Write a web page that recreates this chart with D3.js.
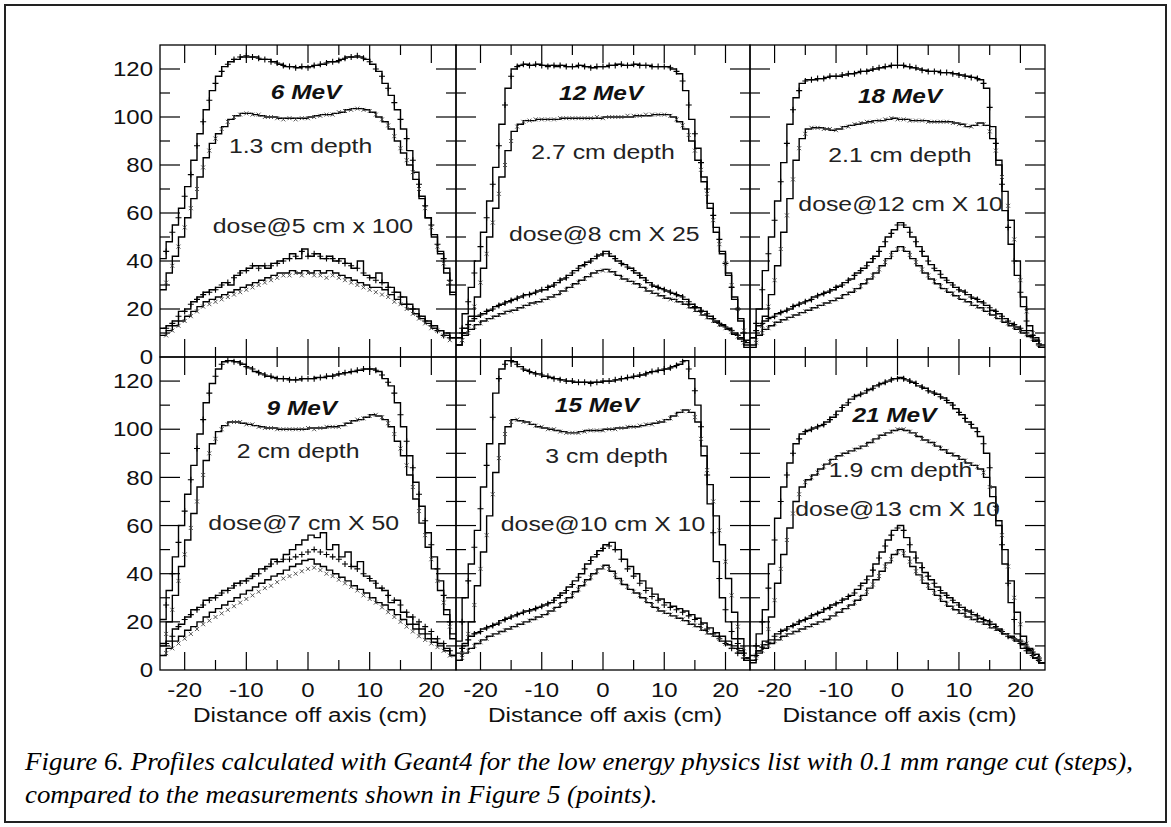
<!DOCTYPE html>
<html><head><meta charset="utf-8">
<script src="https://cdn.jsdelivr.net/npm/d3@7"></script>
<style>body{margin:0;background:#fff;} svg{display:block}</style>
</head><body><svg id="c" width="1171" height="827"></svg>
<script>
// ---------- labels / ticks ----------
const energies = ["6 MeV","12 MeV","18 MeV","9 MeV","15 MeV","21 MeV"];
const depthLabels = ["1.3 cm depth","2.7 cm depth","2.1 cm depth","2 cm depth","3 cm depth","1.9 cm depth"];
const doseLabels = ["dose@5 cm x 100","dose@8 cm X 25","dose@12 cm X 10","dose@7 cm X 50","dose@10 cm X 10","dose@13 cm X 10"];
const xTickLabels = [-20,-10,0,10,20];
const xMinorTicks = [-15,-5,5,15];
const yTickLabels = [0,20,40,60,80,100,120];
const yMinorTicks = [10,30,50,70,90,110];
const xTitle = "Distance off axis (cm)";
const captionLines = ["Figure 6. Profiles calculated with Geant4 for the low energy physics list with 0.1 mm range cut (steps),",
                      "compared to the measurements shown in Figure 5 (points)."];

// ---------- x positions ----------
const binCenters = [-23.5,-22.5,-21.5,-20.5,-19.5,-18.5,-17.5,-16.5,-15.5,-14.5,-13.5,-12.5,-11.5,-10.5,-9.5,-8.5,-7.5,-6.5,-5.5,-4.5,-3.5,-2.5,-1.5,-0.5,0.5,1.5,2.5,3.5,4.5,5.5,6.5,7.5,8.5,9.5,10.5,11.5,12.5,13.5,14.5,15.5,16.5,17.5,18.5,19.5,20.5,21.5,22.5,23.5];
const measX = [-23,-22,-21,-20,-19,-18,-17,-16,-15,-14,-13,-12,-11,-10,-9,-8,-7,-6,-5,-4,-3,-2,-1,0,1,2,3,4,5,6,7,8,9,10,11,12,13,14,15,16,17,18,19,20,21,22,23];

// ---------- 6 MeV ----------
const e6_simA = [41,48,55,62,71,82,93,103,111,117, 121,123,124,125,125,125,124,124,123,122, 121,121,120.5,121,121,121.5,122,123,123,124, 125,125,125,124,122,119,114,109,103,95, 86,77,67,58,51,44,37,26];
const e6_measA = [44,52,58,67,76,88,98,107,114,119, 122,124,125,125.5,125,124.5,124,123,122.5,121.5, 121,120.5,121,120.5,121.5,122,122.5,123,123.5,124.5, 125,125.5,124.5,123,120,117,112,106,99,91, 82,72,63,55,47,41,32];
const e6_simB = [28,35,42,50,58,66,75,83,89,93, 96,99,100.5,101.5,101.5,101,100.5,100,100,99.5, 99.5,99.5,99.5,99.5,100,100.5,101,101,101.5,102, 103,103.5,103.5,103,102,100,98,95,90,85, 80,74,66,58,50,43,35,27];
const e6_measB = [31,38,46,54,62,70,79,86,91,95, 98,100,101,101.5,101,101,100,100,99.5,99, 99.5,99,99.5,99.5,100,100.5,101,101,102,102.5, 103,103.5,103,102.5,101,99,96.5,92,87,82, 77,70,62,54,46,39,31];
const e6_simC = [12,13,15,19,20,23,25,27,28,29, 31,30,34,36,37,38,38,37,39,40, 41,43,41,45,42,43,41,42,40,41, 39,37,40,34,33,35,31,29,27,25, 22,20,17,15,13,11,10,8];
const e6_measC = [12,14,17,19,22,24,26,27,28,30, 31,33,35,36,38,37,38,38,39,40, 41,42,44,42,43,42,41,41,40,39, 38,37,35,33,32,31,29,27,25,22, 20,17,15,13,11,9,8];
const e6_simD = [9,11,13,15,17,19,21,23,24,25, 26,27,28,29,30,31,32,33,34,35, 35,36,35,36,35,36,35,36,35,34, 33,32,31,30,29,29,28,26,24,22, 20,18,16,14,12,11,9,8];
const e6_measD = [9,11,13,15,17,19,21,22,23,24, 25,26,27,28,29,30,31,32,33,34, 34,35,34,35,34,34,33,34,33,32, 31,30,29,28,27,26,25,23,22,20, 18,16,14,12,11,9,7];

// ---------- 12 MeV ----------
const e12_simA = [8,18,29,40,52,65,79,97,112,120, 121.5,122,121.5,122,121.5,121.5,121,121.5,121,121, 121.5,121,120.5,121,121,121.5,122,121.5,121.5,122, 121.5,121.5,121,121,121,120,118,111,99,87, 75,64,54,44,34,24,15,6];
const e12_measA = [12,23,35,46,58,72,88,105,117,121, 122,121.5,122,121.5,121,121.5,121.5,121,121,121.5, 121,120.5,121,121,121.5,121.5,122,121.5,122,121.5, 121.5,121,121,121,120.5,119,115,105,93,81, 70,59,49,39,29,20,10];
const e12_simB = [5,10,17,25,37,50,62,75,86,94, 97,98.5,98.5,99,99,99,99,99.5,99.5,99.5, 99.5,99.5,99.5,99.5,100,100,100,100,100,100.5, 100.5,100.5,101,101,101,100,98,95,90,82, 73,62,52,43,35,25,16,7];
const e12_measB = [7,13,21,31,43,56,68,80,90,96, 98,98.5,99,99,99,99,99.5,99.5,99.5,99.5, 99.5,99.5,100,99.5,100,100,100,100.5,100.5,100.5, 101,101,101,101,100.5,99,96.5,92.5,86,78, 68,57,47,39,30,20,11];
const e12_simC = [8,12,15,17,18,19.5,21,22,23,24, 25,26,26.5,27.5,28,29.5,31,32.5,34,36, 38,39.5,41,42.5,44,42,40,38.5,37,35, 33,31,29.5,28.5,27.5,26.5,25.5,24,22,20.5, 19,17,15,13.5,12,10,8,5];
const e12_measC = [10,13.5,16,17.5,19,20,21.5,22.5,23.5,24.5, 25.5,26,27,28,29,30,32,33,35,37, 38.5,40,42,43,43,41,39,37.5,36,34, 32,30,29,28,27,26,25,23,21,19.5, 18,16,14,12.5,11,9,6.5];
const e12_simD = [5,9,11.5,13.5,15,16,17,18,19,19.5, 20.5,21.5,22.5,23,24,25,26,27.5,29,30.5, 32,33.5,35,36,36.5,35.5,34,32.5,31.5,30.5, 29,27.5,26.5,25.5,24.5,24,23,22,20.5,19, 17.5,16,14.5,13,11.5,9.5,7.5,4];
const e12_measD = [7,10,12.5,14,15.5,16.5,17.5,18.5,19,20, 21,22,22.5,23.5,24.5,25.5,27,28,29.5,31, 32.5,34,35.5,36,36,35,33,32,31,29.5, 28,27,26,25,24,23.5,22.5,21,19.5,18, 16.5,15,13.5,12,10.5,8.5,6];

// ---------- 18 MeV ----------
const e18_simA = [8,20,36,50,65,81,97,108,114,115.5, 115.5,116,116.5,117,117,117.5,118,118.5,119,119.5, 120,120.5,121,121.5,121.5,121,120.5,120,119.5,119, 119,118.5,118.5,118,117.5,117,116.5,115.5,112,96, 82,61,47,34,21,11,7,4];
const e18_measA = [14,28,43,57,73,89,103,111,115,115.5, 116,116,117,117,117.5,118,118,119,119,120, 120.5,121,121.5,121.5,121.5,121,120.5,119.5,119,119, 118.5,118.5,118,117.5,117,116.5,116,114,104,89, 72,54,40,27,15,9,5];
const e18_simB = [4,9,17,26,38,52,66,82,91,95, 95.5,95.5,95,94.5,95,96,96.5,97,97.5,98, 98.5,98.5,99,99.5,99,99,98.5,98.5,98.5,98, 98,98,98,97.5,97,96,96.5,97.5,96.5,91, 80,69,57,40,25,13,8,5];
const e18_measB = [6,13,21,32,45,59,74,87,93,95.5, 95.5,95,95,94.5,95.5,96,97,97.5,98,98, 98.5,99,99.5,99,99,98.5,98.5,98.5,98,98, 98,98,97.5,97,96.5,96,97,97,94,86, 75,63,49,32,19,10,6];
const e18_simC = [8,13,15,16.5,18,19,20,21.5,22.5,23.5, 25,26,27,28,29.5,31,32.5,35,37,39.5, 42,46,50,53,56,54,50,46,42,38.5, 36,33,31,29,27.5,26,24.5,23,21.5,19.5, 18,16,14,12.5,11,9,7,4];
const e18_measC = [11,14,16,17,18.5,19.5,21,22,23,24, 25.5,26.5,27.5,29,30,32,34,36,38,41, 44,48,51.5,55,55,52,48,44,40,37, 34.5,32,30,28,27,25,24,22.5,20.5,19, 17,15,13.5,12,10,8,5.5];
const e18_simD = [5,9,11.5,13,14.5,15.5,16.5,17.5,18.5,19.5, 20.5,21.5,22.5,23.5,24.5,26,27,28.5,30.5,32.5, 35,38,41,44,46,44,41,38,35,32.5, 30.5,28.5,27,25.5,24,23,21.5,20.5,19,17.5, 16,14.5,13,11.5,10,8.5,6.5,4];
const e18_measD = [7,10,12,14,15,16,17,18,19,20, 21,22,23,24,25,26.5,28,29.5,31.5,34, 36.5,39.5,42.5,45,45,42.5,39.5,36.5,34,31.5, 29.5,28,26.5,25,23.5,22,21,20,18.5,17, 15.5,14,12.5,11,9.5,7.5,5];

// ---------- 9 MeV ----------
const e9_simA = [21,33,47,60,73,85,98,111,119,125, 128,128.5,128,127,125.5,124,123,122,121.5,121, 121,120.5,120.5,121,121,121.5,121.5,122,122.5,123, 123.5,124,124.5,125,125,124,121,118,111,101, 89,78,68,57,47,37,25,15];
const e9_measA = [27,40,53,66,79,92,104,115,122,127, 128.5,128,127.5,126,125,123.5,122.5,122,121,121, 120.5,120.5,121,121,121,121.5,122,122,123,123.5, 124,124.5,125,125,124.5,122.5,119.5,115,106,95, 84,73,62,52,42,31,20];
const e9_simB = [11,20,31,43,54,65,76,87,94,99, 101.5,103,103,102.5,102,101.5,101,100.5,100.5,100, 100,100,100,100,100.5,100.5,100.5,101,101,101.5, 102.5,103.5,104,105,106,105.5,104,101,95,89, 81,71,61,51,42,33,23,13];
const e9_measB = [15,25,37,48,59,70,81,90,96,100, 102,103,103,102,102,101,100.5,100.5,100,100, 100,100,100,100.5,100,100.5,101,101,101,102, 103,104,104.5,105.5,106,105,102.5,98,92,85, 76,66,56,46,37,28,18];
const e9_simC = [10,12,17,19,22,25,26,29,30,31, 33,34,36,37,38,40,42,43,46,45, 48,50,52,54,56,55,57,50,52,47, 49,43,45,39,37,34,33,28,29,24, 22,19,17,15,13,11,9,6];
const e9_measC = [11,14,18,21,23,25,27,29,30,32, 33,35,36,37,39,40,42,44,45,46, 46,47,48,49,50,49,48,47,46,44, 43,42,40,38,36,34,31,29,27,24, 22,20,18,16,13,11,8];
const e9_simD = [6,9,12,14,16.5,18,20,22,24,25.5, 27,28.5,30,31.5,33,34.5,36,37.5,39,40, 41.5,43,44,45.5,46,44,43,41.5,40,38.5, 37,35,33.5,32,30,28,27,25,23,21, 19,17,15,13,11.5,10,8,6];
const e9_measD = [7,9,11,13,15,17,19,20.5,22,23.5, 25,26.5,28,29.5,31,32.5,34,35,36.5,38, 39,40,41,42,42.5,41.5,40,39,37.5,36, 34.5,33,31,29.5,28,26,24,22,20,18, 16,14,12.5,11,9.5,8,6];

// ---------- 15 MeV ----------
const e15_simA = [12,30,44,58,76,94,115,125,128.5,128, 126,124.5,123.5,123,122,121.5,121,120.5,120,119.5, 119.5,119.5,119.5,119.5,120,120,120.5,121,121.5,122, 122.5,123.5,124,124.5,125,126,127,128.5,121,110, 93,69,45,30,20,13,9,5];
const e15_measA = [20,37,51,67,85,105,121,127,128.5,127, 125,124,123,122.5,122,121,120.5,120,120,119.5, 119.5,119,119.5,120,120,120.5,121,121.5,122,122.5, 123,124,124.5,125,125.5,126.5,128,125,116,101, 81,57,38,25,16,11,7];
const e15_simB = [4,10,20,35,49,64,82,94,101,104, 103.5,103,102,101,100.5,100,99.5,99,98.5,98.5, 99,99.5,99.5,99.5,100,100,100.5,100.5,101,101, 101.5,102,102.5,103,104,105.5,107,108,107,103, 89,77,64,52,38,24,13,5];
const e15_measB = [7,15,27,42,56,73,88,98,103,104, 103,102.5,101.5,101,100,100,99,98.5,98.5,98.5, 99,99.5,99.5,99.5,100,100,100.5,101,101,101.5, 102,102,103,103.5,104.5,106,107.5,107.5,105,96, 83,70,58,45,31,18,9];
const e15_simC = [7,11,14,15.5,17,18,19,20.5,21.5,22.5, 23.5,24.5,25,26,27,28,30,32,34.5,37, 40,44,47,49.5,52,53,50,46,43,40, 37,34,31.5,29.5,28,26.5,25.5,24.5,23,21.5, 19.5,17.5,15.5,14,12,10,8,4];
const e15_measC = [9,12.5,15,16,17.5,18.5,19.5,21,22,23, 24,24.5,25.5,26.5,27.5,29,31,33,35.5,38.5, 42,45.5,48,50.5,51.5,50,46,42,39,36, 33,30.5,29,27,26,25,24,22.5,21,19, 17,15,13,11,9,7,5];
const e15_simD = [4,7,9,11,12.5,14,15,16,17,18, 19,20,21,22,23,24.5,26,28,30,32.5, 35,37.5,40,42,43.5,41,38,35.5,33.5,32, 30,28,26,24.5,23.5,22.5,21.5,20.5,19,18, 16.5,15,14,12,10.5,9,7,4];
const e15_measD = [5,8,10,11.5,13,14.5,15.5,16.5,17.5,18.5, 19.5,20.5,21.5,22.5,24,25,27,29,31,33.5, 36,38.5,41,42.5,42,39.5,36.5,34.5,32.5,31, 29,27,25,24,23,22,21,19.5,18.5,17, 15.5,14.5,13,11,9.5,8,5.5];

// ---------- 21 MeV ----------
const e21_simA = [6,15,25,44,63,76,86,94,98,99.5, 100.5,101.5,103,105,107.5,110,112.5,114,115,116.5, 118,119,120,121,121.5,120.5,119.5,118,117,115.5, 114.5,113,111,108.5,106,103,100.5,97,90,76, 60,44,28,15,9,7,5,3];
const e21_measA = [10,20,34,54,70,81,90,96,99,100, 101,102,104,106,109,111,113.5,114.5,116,117, 118.5,119.5,120.5,121,121,120,119,117.5,116,115, 113.5,112,110,107,104.5,102,99,94,84,68, 52,36,21,12,8,6,4];
const e21_simB = [4,8,12,22,36,48,59,70,76,79, 81,83.5,85.5,87.5,89,90,91,92,93,94.5, 96,97.5,98.5,99.5,100,99.5,98.5,97,95.5,94.5, 93,91.5,90,89,87.5,86,85,83.5,80,72, 62,50,37,24,14,8,5,3];
const e21_measB = [6,10,17,29,42,54,65,73,78,80, 82,84.5,86.5,88,89.5,90.5,91.5,92.5,93.5,95, 97,98,99,100,100,99,98,96,95,94, 92,91,89.5,88,87,85.5,84.5,82,76,67, 56,43,30,19,11,6,4];
const e21_simC = [4,8,10.5,12.5,15,16.5,18,19,20.5,21.5, 23,24,25.5,27,28,29.5,31,33.5,36,39, 44,49,54,58,60,55,49,44.5,40.5,37.5, 34.5,32,30,28,26,24.5,23,21.5,20.5,19, 17,15,13.5,12,10.5,8.5,6.5,3];
const e21_measC = [6,9.5,11.5,14,16,17,18.5,20,21,22.5, 23.5,25,26,27.5,29,30.5,32,35,37.5,41.5, 46.5,51.5,56,59,58,52,46.5,42.5,39,36, 33,31,29,27,25,24,22.5,21,20,18, 16,14,13,11,9.5,7.5,5];
const e21_simD = [3,7,9,11,12.5,14,15,16,17,18, 19,20,21,22.5,24,25.5,27,29,31,34, 37.5,41,44.5,48,50,47,43,39.5,36,33.5, 31,28.5,26.5,25,23.5,22,21,20,19,17.5, 16.5,15,14,12.5,11,9,6.5,3];
const e21_measD = [5,8,10,12,13,14.5,15.5,16.5,17.5,18.5, 19.5,20.5,22,23,24.5,26,28,30,32.5,35.5, 39,43,46,49,48.5,45,41,38,35,32, 30,27.5,26,24,23,21.5,20.5,19.5,18,17, 16,14.5,13,12,10,8,5];

// ---------- assemble (panel order: row 1: 6,12,18 ; row 2: 9,15,21) ----------
const panelsData = [
  {sim:[e6_simA,e6_simB,e6_simC,e6_simD],   meas:[e6_measA,e6_measB,e6_measC,e6_measD]},
  {sim:[e12_simA,e12_simB,e12_simC,e12_simD],meas:[e12_measA,e12_measB,e12_measC,e12_measD]},
  {sim:[e18_simA,e18_simB,e18_simC,e18_simD],meas:[e18_measA,e18_measB,e18_measC,e18_measD]},
  {sim:[e9_simA,e9_simB,e9_simC,e9_simD],   meas:[e9_measA,e9_measB,e9_measC,e9_measD]},
  {sim:[e15_simA,e15_simB,e15_simC,e15_simD],meas:[e15_measA,e15_measB,e15_measC,e15_measD]},
  {sim:[e21_simA,e21_simB,e21_simC,e21_simD],meas:[e21_measA,e21_measB,e21_measC,e21_measD]}
];

// ---------- layout (positions / styles) ----------
const colX = [[160,456],[456,750],[750,1045]];
const rowY = [[357,45],[670,357]];
const xDomain = [-24,24], yDomain = [0,130];
const binWidth = 1;
const labelAnchors = [
  {e:[-0.3,107.5], d:[-1.2,85],  s:[0.8,51.7]},
  {e:[-0.3,107],   d:[0,82.5],   s:[0.2,48.5]},
  {e:[0.4,105.8],  d:[0.4,81.3], s:[0.5,61]},
  {e:[-1,106],     d:[-1.6,88.2],s:[-0.7,58.3]},
  {e:[-1,107],     d:[0.6,86],   s:[0,57.6]},
  {e:[-0.5,103],   d:[0.5,80],   s:[0,63.8]}
];
const SANS = '"Liberation Sans", Arial';
const SERIF = '"Liberation Serif", "Times New Roman"';

const svg = d3.select("#c");
svg.append("rect").attr("width",1171).attr("height",827).attr("fill","#fff");
svg.append("rect").attr("x",5).attr("y",5).attr("width",1161).attr("height",817)
   .attr("fill","none").attr("stroke","#222").attr("stroke-width",2);

function stretch(sel, k){
  sel.each(function(){
    const w = this.getComputedTextLength();
    d3.select(this).attr("textLength", w*k).attr("lengthAdjust","spacingAndGlyphs");
  });
}
function sans(sel, size){ return sel.style("font-family",SANS).style("font-size",size+"px"); }

const plusPath = "M-3,0H3M0,-3V3";
const crossPath = "M-2,-2L2,2M-2,2L2,-2";

panelsData.forEach((pd, i) => {
  const row = Math.floor(i/3), col = i%3;
  const x = d3.scaleLinear().domain(xDomain).range(colX[col]);
  const y = d3.scaleLinear().domain(yDomain).range(rowY[row]);
  const g = svg.append("g");
  const clipId = "clip"+i;
  svg.append("clipPath").attr("id",clipId).append("rect")
     .attr("x",colX[col][0]).attr("y",rowY[row][1])
     .attr("width",colX[col][1]-colX[col][0]).attr("height",rowY[row][0]-rowY[row][1]);
  const plot = g.append("g").attr("clip-path",`url(#${clipId})`);

  const stepLine = d3.line().x(d=>x(d[0])).y(d=>y(d[1])).curve(d3.curveStepAfter);
  pd.sim.forEach(vals => {
    const pts = vals.map((v,k)=>[binCenters[k]-binWidth/2, v]);
    pts.push([binCenters[binCenters.length-1]+binWidth/2, vals[vals.length-1]]);
    plot.append("path").attr("d",stepLine(pts)).attr("fill","none")
        .attr("stroke","#000").attr("stroke-width",1.4);
  });
  pd.meas.forEach((vals, c) => {
    const isPlus = (c===0 || c===2);
    plot.append("g").selectAll("path").data(vals).join("path")
      .attr("transform",(v,k)=>`translate(${x(measX[k])},${y(v)})`)
      .attr("d", isPlus ? plusPath : crossPath)
      .attr("fill","none")
      .attr("stroke", isPlus ? "#000" : "#444")
      .attr("stroke-width", isPlus ? 1.1 : 0.9);
  });

  g.append("rect").attr("x",colX[col][0]).attr("y",rowY[row][1])
   .attr("width",colX[col][1]-colX[col][0]).attr("height",rowY[row][0]-rowY[row][1])
   .attr("fill","none").attr("stroke","#000").attr("stroke-width",1.3);

  const tk = g.append("g").attr("stroke","#000").attr("stroke-width",1.2);
  const y0 = rowY[row][0], y1 = rowY[row][1], x0 = colX[col][0], x1 = colX[col][1];
  const xt = [...xTickLabels.map(v=>[v,18]), ...xMinorTicks.map(v=>[v,10])];
  xt.forEach(([v,L]) => {
    tk.append("line").attr("x1",x(v)).attr("x2",x(v)).attr("y1",y0).attr("y2",y0-L);
    tk.append("line").attr("x1",x(v)).attr("x2",x(v)).attr("y1",y1).attr("y2",y1+L);
  });
  const yt = [...yTickLabels.filter(v=>v>0).map(v=>[v,20]), ...yMinorTicks.map(v=>[v,10])];
  yt.forEach(([v,L]) => {
    tk.append("line").attr("y1",y(v)).attr("y2",y(v)).attr("x1",x0).attr("x2",x0+L);
    tk.append("line").attr("y1",y(v)).attr("y2",y(v)).attr("x1",x1).attr("x2",x1-L);
  });

  if (col === 0) {
    const yl = g.append("g").selectAll("text").data(yTickLabels).join("text")
      .attr("x", x0-7).attr("y", v=>y(v)).attr("dy","0.36em")
      .attr("text-anchor","end").attr("fill","#111").text(v=>v);
    sans(yl,20); stretch(yl, 1.2);
  }
  if (row === 1) {
    const xl = g.append("g").selectAll("text").data(xTickLabels).join("text")
      .attr("x", v=>x(v)).attr("y", 697)
      .attr("text-anchor","middle").attr("fill","#111").text(v=>v);
    sans(xl,20); stretch(xl, 1.2);
    const tt = g.append("text").attr("x",(x0+x1)/2+2).attr("y",722)
      .attr("text-anchor","middle").attr("fill","#111").text(xTitle);
    sans(tt,20); stretch(tt, 1.22);
  }

  const la = labelAnchors[i];
  const te = g.append("text").attr("x",x(la.e[0])).attr("y",y(la.e[1]))
    .attr("text-anchor","middle").attr("fill","#111").text(energies[i]);
  sans(te,20).style("font-weight","bold").style("font-style","italic"); stretch(te, 1.22);
  const td = g.append("text").attr("x",x(la.d[0])).attr("y",y(la.d[1]))
    .attr("text-anchor","middle").attr("fill","#222").text(depthLabels[i]);
  sans(td,20); stretch(td, 1.24);
  const ts = g.append("text").attr("x",x(la.s[0])).attr("y",y(la.s[1]))
    .attr("text-anchor","middle").attr("fill","#222").text(doseLabels[i]);
  sans(ts,20); stretch(ts, 1.24);
});

// caption
const c1 = svg.append("text").attr("x",25).attr("y",770).text(captionLines[0])
  .style("font-family",SERIF).style("font-style","italic").style("font-size","25px").attr("fill","#000");
const w1 = c1.node().getComputedTextLength();
const kCap = 1108 / w1;
c1.attr("textLength",1108).attr("lengthAdjust","spacingAndGlyphs");
const c2 = svg.append("text").attr("x",25).attr("y",803).text(captionLines[1])
  .style("font-family",SERIF).style("font-style","italic").style("font-size","25px").attr("fill","#000");
stretch(c2, kCap);
</script>
</body></html>
